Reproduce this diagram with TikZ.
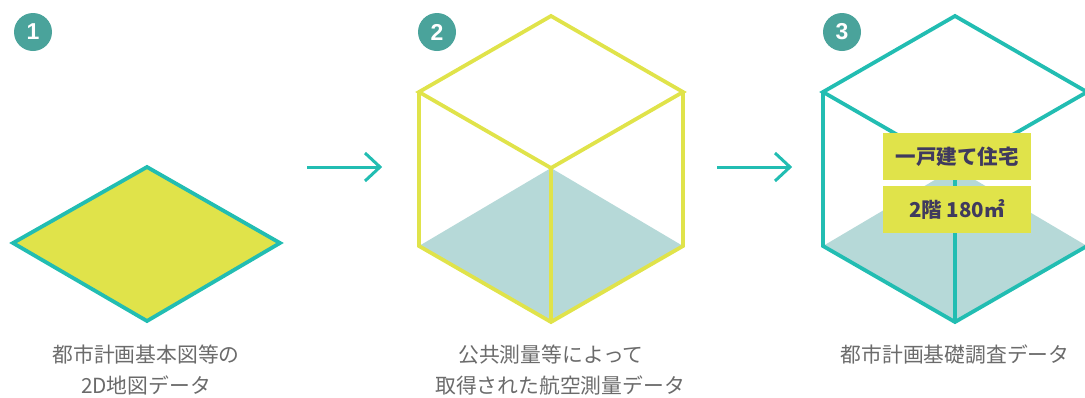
\documentclass[tikz,border=0pt]{standalone}
\usepackage{fontspec}
\newfontfamily\cjk{Noto Sans CJK JP}
\newfontfamily\digitfont{Liberation Sans}
\definecolor{teal1}{HTML}{22BDB2}
\definecolor{yel}{HTML}{E0E34A}
\definecolor{face}{HTML}{B6D9D8}
\definecolor{numc}{HTML}{4AA39B}
\definecolor{txt}{HTML}{6B6B6B}
\definecolor{lbl}{HTML}{3F3A5E}
\tikzset{
  num/.style={circle, fill=numc, minimum size=38pt, inner sep=0pt, text=white, font=\digitfont\bfseries\fontsize{23}{23}\selectfont},
  captxt/.style={text=txt, font=\cjk\fontsize{20.8}{31}\selectfont, align=center},
  tag/.style={fill=yel, text=lbl, minimum width=148pt, minimum height=47pt, inner sep=0pt, font=\cjk\bfseries\fontsize{20.5}{20.5}\selectfont},
  cubeline/.style={line width=3.8pt, line join=miter},
  flow/.style={teal1, line width=3pt}
}
\begin{document}
\begin{tikzpicture}[x=1pt,y=-1pt]
\useasboundingbox (0,0) rectangle (1085,397);
\clip (0,0) rectangle (1085,397);
% numbers
\node[num] (n1) at (33,32) {1};
\node[num] (n2) at (437,32) {2};
\node[num] (n3) at (842,32) {3};
% diamond
\filldraw[cubeline, draw=teal1, fill=yel] (13,243) -- (147,167) -- (280,243) -- (147,321) -- cycle;
% cube 2
\fill[face] (419,246) -- (551,168) -- (683,246) -- (551,322) -- cycle;
\draw[cubeline, yel] (419,92) -- (551,16) -- (683,92) -- (551,168) -- cycle;
\draw[cubeline, yel] (419,92) -- (419,246) -- (551,322) -- (683,246) -- (683,92);
\draw[cubeline, yel] (551,168) -- (551,322);
% cube 3
\fill[face] (823,246) -- (955,168) -- (1087,246) -- (955,322) -- cycle;
\draw[cubeline, teal1] (823,92) -- (955,16) -- (1087,92) -- (955,168) -- cycle;
\draw[cubeline, teal1] (823,92) -- (823,246) -- (955,322) -- (1087,246) -- (1087,92);
\draw[cubeline, teal1] (955,168) -- (955,322);
\node[tag] (t1) at (957,156.5) {一戸建て住宅};
\node[tag] (t2) at (957,209.5) {2階 180㎡};
% arrows
\coordinate (a1s) at (307,167); \coordinate (a1e) at (380,167);
\coordinate (a2s) at (717,167); \coordinate (a2e) at (790,167);
\draw[flow] (a1s) -- (a1e);
\draw[flow, line join=miter] ([xshift=-15pt,yshift=-14pt]a1e) -- (a1e) -- ([xshift=-15pt,yshift=14pt]a1e);
\draw[flow] (a2s) -- (a2e);
\draw[flow, line join=miter] ([xshift=-15pt,yshift=-14pt]a2e) -- (a2e) -- ([xshift=-15pt,yshift=14pt]a2e);
% captions
\node[captxt] (c1) at (146,370) {都市計画基本図等の\\2D地図データ};
\node[captxt] (c2) at (551,370) {公共測量等によって\\\hspace*{18pt}取得された航空測量データ};
\node[captxt] (c3) at (955,355) {都市計画基礎調査データ};
\end{tikzpicture}
\end{document}
